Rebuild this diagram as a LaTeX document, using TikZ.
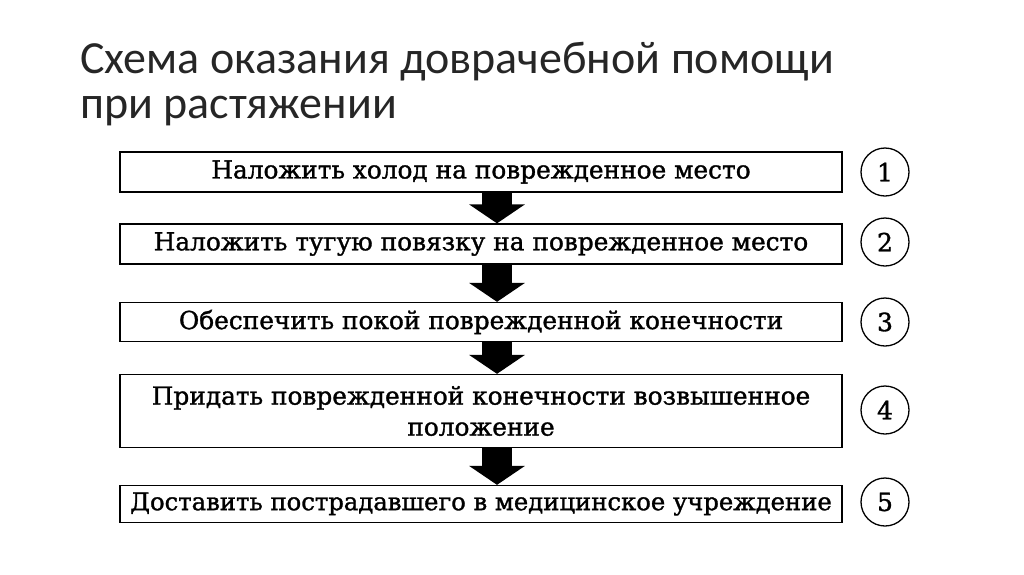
\documentclass[tikz,border=0pt]{standalone}
\usepackage{fontspec}
\setmainfont{Carlito}
\newfontfamily\boxfont[FakeBold=1.3]{DejaVu Serif}
\usepackage{tikz}
\usetikzlibrary{arrows.meta, positioning}

\begin{document}
\begin{tikzpicture}[
		x=1pt, y=-1pt,
		titletext/.style={anchor=base west, inner sep=0pt, font=\fontsize{46}{41}\selectfont, text=black!85},
		stepbox/.style={draw=black, line width=1.3pt, fill=white, minimum width=722pt, minimum height=40pt, inner sep=0pt, align=center, font=\boxfont\fontsize{24.8}{31}\selectfont},
		numcircle/.style={draw=black, line width=1.3pt, circle, minimum size=48pt, inner sep=0pt, font=\boxfont\fontsize{25}{28}\selectfont},
		blockarrow/.style={-{Triangle[length=19pt, width=55pt]}, line width=30pt, black}
	]
	\useasboundingbox (0,0) rectangle (1024,574);
	% title
	\node[titletext] (title1) at (80,73) {Схема оказания доврачебной помощи};
	\node[titletext] (title2) at (80,118) {при растяжении};
	% steps
	\node[stepbox] (s1) at (481,172) {Наложить холод на поврежденное место};
	\node[stepbox] (s2) at (481,244) {Наложить тугую повязку на поврежденное место};
	\node[stepbox, minimum height=39pt] (s3) at (481,322) {Обеспечить покой поврежденной конечности};
	\node[stepbox, minimum height=73pt] (s4) at (481,411) {Придать поврежденной конечности возвышенное\\положение};
	\node[stepbox, minimum height=37pt, font=\boxfont\fontsize{24.3}{30}\selectfont] (s5) at (481,504) {Доставить пострадавшего в медицинское учреждение};
	% numbers
	\node[numcircle] (n1) at (885,172) {1};
	\node[numcircle] (n2) at (885,242) {2};
	\node[numcircle] (n3) at (885,322) {3};
	\node[numcircle] (n4) at (885,410) {4};
	\node[numcircle] (n5) at (885,502) {5};
	% arrows
	\draw[blockarrow] ([xshift=16pt]s1.south) -- ([xshift=16pt]s2.north);
	\draw[blockarrow] ([xshift=16pt]s2.south) -- ([xshift=16pt]s3.north);
	\draw[blockarrow] ([xshift=16pt]s3.south) -- ([xshift=16pt]s4.north);
	\draw[blockarrow] ([xshift=16pt]s4.south) -- ([xshift=16pt]s5.north);
\end{tikzpicture}
\end{document}
